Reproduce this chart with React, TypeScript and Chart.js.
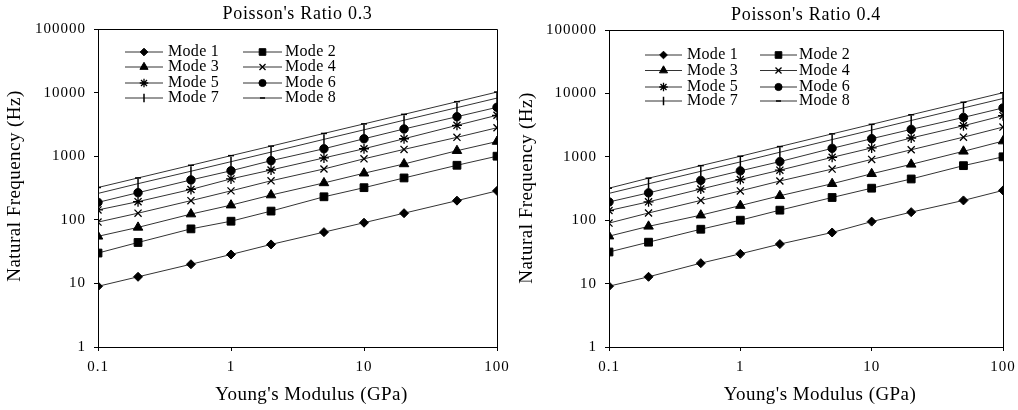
import React, { useEffect, useRef } from 'react';
import { Chart, registerables } from 'chart.js';
import { drawPoint } from 'chart.js/helpers';

Chart.register(...registerables);

// ---------- data ----------
const youngsModulus = [0.1, 0.2, 0.5, 1, 2, 5, 10, 20, 50, 100];
const modeLabels = ['Mode 1', 'Mode 2', 'Mode 3', 'Mode 4', 'Mode 5', 'Mode 6', 'Mode 7', 'Mode 8'];
const xTickValues = [0.1, 1, 10, 100];
const yTickValues = [1, 10, 100, 1000, 10000, 100000];

// Poisson's ratio 0.3
const r03Mode1 = [9, 12.7, 20, 28.5, 41, 64, 90, 127, 200, 285];
const r03Mode2 = [30, 44, 72, 95, 137, 230, 320, 455, 720, 1000];
const r03Mode3 = [55, 76, 123, 170, 245, 380, 540, 755, 1220, 1700];
const r03Mode4 = [92, 127, 200, 285, 410, 630, 910, 1280, 1980, 2800];
const r03Mode5 = [143, 193, 300, 440, 607, 940, 1310, 1880, 3060, 4400];
const r03Mode6 = [188, 267, 423, 590, 850, 1310, 1880, 2680, 4180, 5870];
const r03Mode7 = [260, 370, 580, 820, 1160, 1840, 2600, 3680, 5800, 8200];
const r03Mode8 = [322, 455, 720, 1020, 1440, 2280, 3220, 4550, 7200, 10200];

// Poisson's ratio 0.4
const r04Mode1 = [9.1, 12.8, 21, 29.5, 42, 64, 95, 134, 205, 295];
const r04Mode2 = [31.5, 45, 72, 100, 144, 228, 320, 447, 725, 1000];
const r04Mode3 = [56, 80, 120, 170, 243, 376, 540, 760, 1220, 1770];
const r04Mode4 = [90, 130, 205, 290, 415, 640, 910, 1290, 2040, 2940];
const r04Mode5 = [142, 195, 310, 438, 615, 980, 1380, 1980, 3090, 4460];
const r04Mode6 = [194, 270, 425, 600, 840, 1360, 1930, 2710, 4180, 5900];
const r04Mode7 = [265, 375, 590, 830, 1180, 1870, 2640, 3740, 5900, 8300];
const r04Mode8 = [320, 460, 725, 1020, 1450, 2300, 3250, 4600, 7250, 10250];

// ---------- styles ----------
const markerStyles = [
  { pointStyle: 'rectRot', radius: 4.5, rotation: 0, borderWidth: 1 },
  { pointStyle: 'rect', radius: 5.5, rotation: 0, borderWidth: 1 },
  { pointStyle: 'triangle', radius: 5.5, rotation: 0, borderWidth: 1 },
  { pointStyle: 'crossRot', radius: 5, rotation: 0, borderWidth: 1.3 },
  { pointStyle: 'star', radius: 5, rotation: 0, borderWidth: 1.3 },
  { pointStyle: 'circle', radius: 4.2, rotation: 0, borderWidth: 1 },
  { pointStyle: 'line', radius: 5, rotation: 90, borderWidth: 1.5 },
  { pointStyle: 'line', radius: 3, rotation: 0, borderWidth: 1.5 },
];

const FONT = '"Liberation Serif", "Times New Roman", serif';
const W = 509;
const H = 410;

type Panel = {
  title: string;
  series: number[][];
  area: { left: number; right: number; top: number; bottom: number };
  titleY: number;
  yTitleX: number;
  yTitleY: number;
  xTitleY: number;
  leg: { c1x0: number; c1x1: number; c1t: number; c2x0: number; c2x1: number; c2t: number; rows: number[] };
};

const panels: Panel[] = [
  {
    title: "Poisson's Ratio 0.3",
    series: [r03Mode1, r03Mode2, r03Mode3, r03Mode4, r03Mode5, r03Mode6, r03Mode7, r03Mode8],
    area: { left: 98, right: 497, top: 29, bottom: 347 },
    titleY: 14,
    yTitleX: 15,
    yTitleY: 186,
    xTitleY: 395,
    leg: { c1x0: 125, c1x1: 163, c1t: 168, c2x0: 243, c2x1: 282, c2t: 285, rows: [52, 67, 83, 98] },
  },
  {
    title: "Poisson's Ratio 0.4",
    series: [r04Mode1, r04Mode2, r04Mode3, r04Mode4, r04Mode5, r04Mode6, r04Mode7, r04Mode8],
    area: { left: 100, right: 494, top: 30, bottom: 347 },
    titleY: 15,
    yTitleX: 18,
    yTitleY: 188,
    xTitleY: 395,
    leg: { c1x0: 136, c1x1: 173, c1t: 178, c2x0: 251, c2x1: 288, c2t: 290, rows: [55, 70.5, 87, 101] },
  },
];

function makeOverlay(p: Panel) {
  return {
    id: 'overlay',
    beforeDraw(chart: any) {
      (chart.ctx as any).letterSpacing = '1px';
    },
    afterDraw(chart: any) {
      const ctx: any = chart.ctx;
      const a = chart.chartArea;
      ctx.save();
      // frame
      ctx.strokeStyle = '#000';
      ctx.lineWidth = 1;
      ctx.beginPath();
      ctx.moveTo(Math.round(a.left) + 0.5, Math.round(a.top) + 0.5);
      ctx.lineTo(Math.round(a.right) + 0.5, Math.round(a.top) + 0.5);
      ctx.lineTo(Math.round(a.right) + 0.5, Math.round(a.bottom) + 0.5);
      ctx.stroke();

      ctx.fillStyle = '#000';
      ctx.textBaseline = 'middle';
      ctx.textAlign = 'center';
      ctx.letterSpacing = '0.7px';
      ctx.font = `18px ${FONT}`;
      ctx.fillText(p.title, (a.left + a.right) / 2, p.titleY);

      ctx.letterSpacing = '0.45px';
      ctx.font = `19px ${FONT}`;
      ctx.fillText("Young's Modulus (GPa)", (a.left + a.right) / 2 + 14, p.xTitleY);

      ctx.save();
      ctx.translate(p.yTitleX, p.yTitleY);
      ctx.rotate(-Math.PI / 2);
      ctx.fillText('Natural Frequency (Hz)', 0, 0);
      ctx.restore();

      // legend
      ctx.letterSpacing = '0.3px';
      ctx.font = `16px ${FONT}`;
      ctx.textAlign = 'left';
      chart.data.datasets.forEach((ds: any, i: number) => {
        const col = i % 2;
        const row = Math.floor(i / 2);
        const x0 = col ? p.leg.c2x0 : p.leg.c1x0;
        const x1 = col ? p.leg.c2x1 : p.leg.c1x1;
        const tx = col ? p.leg.c2t : p.leg.c1t;
        const y = p.leg.rows[row];
        ctx.strokeStyle = '#333';
        ctx.lineWidth = 1;
        ctx.beginPath();
        ctx.moveTo(x0, y);
        ctx.lineTo(x1, y);
        ctx.stroke();
        const m = markerStyles[i];
        ctx.fillStyle = '#000';
        ctx.strokeStyle = '#000';
        ctx.lineWidth = m.borderWidth;
        drawPoint(ctx, { pointStyle: m.pointStyle as any, radius: m.radius * 0.85, rotation: m.rotation, borderWidth: m.borderWidth }, (x0 + x1) / 2, y);
        ctx.fillStyle = '#000';
        ctx.fillText(ds.label, tx, y);
      });
      ctx.restore();
    },
  };
}

function PanelChart({ p }: { p: Panel }) {
  const ref = useRef<HTMLCanvasElement | null>(null);
  useEffect(() => {
    if (!ref.current) return;
    const datasets = p.series.map((vals, i) => ({
      label: modeLabels[i],
      data: youngsModulus.map((x, j) => ({ x, y: vals[j] })),
      borderColor: '#333',
      borderWidth: 1,
      tension: 0,
      fill: false,
      pointStyle: markerStyles[i].pointStyle,
      pointRadius: markerStyles[i].radius,
      pointRotation: markerStyles[i].rotation,
      pointBorderWidth: markerStyles[i].borderWidth,
      pointBackgroundColor: '#000',
      pointBorderColor: '#000',
    }));
    const chart = new Chart(ref.current, {
      type: 'line',
      data: { datasets },
      options: {
        animation: false,
        responsive: false,
        events: [],
        layout: { padding: { left: 0, top: p.area.top, right: W - p.area.right, bottom: 0 } },
        plugins: { legend: { display: false }, title: { display: false }, tooltip: { enabled: false } },
        scales: {
          x: {
            type: 'logarithmic',
            min: 0.1,
            max: 100,
            afterBuildTicks: (s: any) => {
              s.ticks = xTickValues.map((v) => ({ value: v }));
            },
            afterFit: (s: any) => {
              s.height = H - p.area.bottom;
              s.paddingLeft = 0;
              s.paddingRight = 0;
            },
            ticks: {
              autoSkip: false,
              maxRotation: 0,
              padding: 7,
              color: '#000',
              font: { family: FONT, size: 15 },
              callback: (v: any) => String(v),
            },
            grid: { display: true, drawOnChartArea: false, drawTicks: true, tickLength: 4, color: '#000' },
            border: { display: true, color: '#000', width: 1 },
          },
          y: {
            type: 'logarithmic',
            min: 1,
            max: 100000,
            afterBuildTicks: (s: any) => {
              s.ticks = yTickValues.map((v) => ({ value: v }));
            },
            afterFit: (s: any) => {
              s.width = p.area.left;
              s.paddingTop = 0;
              s.paddingBottom = 0;
            },
            ticks: {
              autoSkip: false,
              padding: 8,
              color: '#000',
              font: { family: FONT, size: 15 },
              callback: (v: any) => String(v),
            },
            grid: { display: true, drawOnChartArea: false, drawTicks: true, tickLength: 4, color: '#000' },
            border: { display: true, color: '#000', width: 1 },
          },
        },
      } as any,
      plugins: [makeOverlay(p)],
    });
    return () => chart.destroy();
  }, [p]);
  return <canvas ref={ref} width={W} height={H} style={{ display: 'block', width: W, height: H }} />;
}

export default function App() {
  return (
    <div style={{ position: 'absolute', left: 0, top: 0, width: 1018, height: 410, display: 'flex', background: '#fff' }}>
      {panels.map((p, i) => (
        <PanelChart key={i} p={p} />
      ))}
    </div>
  );
}
